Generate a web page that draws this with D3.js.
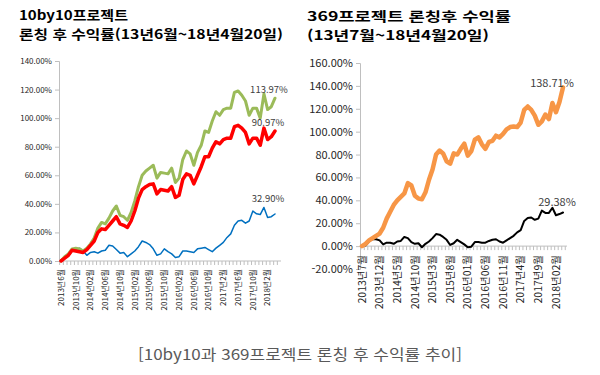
<!DOCTYPE html>
<html lang="ko">
<head>
<meta charset="UTF-8">
<script src="https://cdn.jsdelivr.net/npm/d3@7"></script>
<style>
  body { margin: 0; background: #fff; }
  text { font-family: "Noto Sans CJK KR", "Noto Sans", sans-serif; }
</style>
</head>
<body>
<svg id="chart" width="600" height="375"></svg>
<script>
// 10by10 (monthly, 2013-06 .. 2018-04)
const leftGreen = [0, 3, 5, 8.5, 9, 8.5, 7, 9, 12, 16, 23, 27, 26, 30, 35, 38.5, 32, 31, 28.5, 34,
  42, 52, 60, 63, 65, 67, 58, 62, 61.5, 61, 65, 55, 58, 71, 77, 75, 67, 76, 81, 91,
  90, 98, 104.5, 102, 106, 107, 107, 118, 119, 116, 112, 102, 107, 107, 100, 117, 106, 108, 113.97];
const leftRed = [0, 2, 4, 7.5, 7, 6.5, 6, 8, 11, 14, 20, 22.5, 22, 25, 28, 31, 26, 25, 23.5, 28,
  35, 44, 50, 52, 53.5, 54, 47, 50, 49.5, 49, 52, 44.5, 46, 57, 61, 60, 54, 60, 66, 73,
  73, 79, 83.5, 82, 85, 86, 86, 94, 95, 93, 90, 82, 86, 86, 81, 93, 85, 87, 90.97];
const leftBlue = [0, 2, 3.5, 7, 8, 9, 7, 4, 6, 6.5, 5.5, 7, 7.5, 11, 10.5, 8, 5.5, 6, 3, 5,
  7, 10, 14, 13, 11.5, 8.5, 4, 5, 8.5, 6.5, 5, 2.5, 3, 7, 7, 6.5, 6, 8.5, 9, 9.5,
  8, 6.5, 9, 11, 13, 16.5, 19, 25, 28, 28.5, 26.5, 28, 35, 33, 32.5, 37.5, 30.5, 31, 32.9];
const leftTickLabels = ["2013년6월", "2013년10월", "2014년02월", "2014년06월", "2014년10월",
  "2015년02월", "2015년06월", "2015년10월", "2016년02월", "2016년06월", "2016년10월",
  "2017년2월", "2017년6월", "2017년10월", "2018년2월"];
const leftYTicks = [0, 20, 40, 60, 80, 100, 120, 140];

// 369 (monthly, 2013-07 .. 2018-04)
const rightOrange = [0, 2, 5, 7, 9, 11, 16, 24, 30, 36, 40, 43, 46, 55, 53, 44, 41.5, 41, 47, 58,
  67, 80, 83.5, 81, 74, 72, 81, 80, 85, 89.5, 79, 83, 93, 95, 89, 85, 91, 92, 96.5, 95,
  98, 102, 104, 104.5, 104, 108, 119, 122, 119, 114, 106, 109, 115, 111, 125, 117, 126, 138.71];
const rightBlack = [0, 0.5, 4, 6, 6, 5, 1.5, 3, 3, 2, 4, 4.5, 8, 7, 3.5, 2, 2.5, -1, 2, 4,
  7, 10.5, 10, 8, 5.5, 1, 2.5, 5.5, 3.5, 1.5, -1, -0.5, 3.5, 3.5, 3, 3, 4.5, 5.5, 6, 4,
  3, 5, 7, 9, 12, 14, 22, 24.5, 25, 23, 24, 31, 29, 29, 33.5, 27, 28, 29.38];
const rightTickLabels = ["2013년7월", "2013년12월", "2014년5월", "2014년10월", "2015년3월",
  "2015년8월", "2016년01월", "2016년06월", "2016년11월", "2017년4월", "2017년9월", "2018년02월"];
const rightYTicks = [-20, 0, 20, 40, 60, 80, 100, 120, 140, 160];

const svg = d3.select("#chart");
const axisColor = "#BFBFBF";
const fmt = v => v.toFixed(2) + "%";

// titles (Malgun-like widths, forced with textLength)
function titleLine(x, y, txt, len) {
  svg.append("text").attr("x", x).attr("y", y)
    .attr("font-size", 13).attr("font-weight", "bold").attr("fill", "#000")
    .attr("textLength", len).attr("lengthAdjust", "spacingAndGlyphs")
    .text(txt);
}
titleLine(19, 20, "10by10프로젝트", 109);
titleLine(19, 39, "론칭 후 수익률(13년6월~18년4월20일)", 264);
titleLine(307, 21, "369프로젝트 론칭후 수익률", 204);
titleLine(307, 40, "(13년7월~18년4월20일)", 182);

function drawPanel(cfg) {
  const x = d3.scaleLinear().domain([0, cfg.n - 1]).range(cfg.xr);
  const y = d3.scaleLinear().domain(cfg.yd).range(cfg.yr);
  const g = svg.append("g");

  // y axis
  const ya = g.append("g").attr("transform", `translate(${cfg.yAxisX},0)`)
    .call(d3.axisLeft(y).tickValues(cfg.yTicks).tickFormat(fmt).tickSize(4).tickPadding(3));
  ya.select(".domain").attr("stroke", axisColor);
  ya.selectAll(".tick line").attr("stroke", axisColor);
  ya.selectAll("text").attr("font-size", cfg.yFont).attr("fill", "#262626")
    .attr("font-family", "Noto Sans CJK KR");

  // x axis: monthly minor ticks
  const x0 = y(0);
  g.append("line").attr("x1", cfg.yAxisX).attr("x2", cfg.xEnd)
    .attr("y1", x0).attr("y2", x0).attr("stroke", axisColor);
  g.selectAll(".mt").data(d3.range(cfg.n + 1)).join("line")
    .attr("x1", i => x(i - 0.5) + 0.5).attr("x2", i => x(i - 0.5) + 0.5)
    .attr("y1", x0).attr("y2", x0 + 4).attr("stroke", axisColor);

  // x labels
  g.selectAll(".xl").data(cfg.xLabels).join("text")
    .attr("transform", (d, k) => `translate(${x(k * cfg.step) + cfg.xFont * 0.35},${cfg.labelTop}) rotate(-90)`)
    .attr("text-anchor", "end").attr("font-size", cfg.xFont).attr("fill", "#262626")
    .text(d => d);

  // lines
  cfg.series.forEach(s => {
    g.append("path").datum(s.values)
      .attr("fill", "none").attr("stroke", s.color).attr("stroke-width", s.width)
      .attr("stroke-linejoin", "round").attr("stroke-linecap", "round")
      .attr("d", d3.line().x((d, i) => x(i)).y(d => y(d)));
    const last = s.values[s.values.length - 1];
    g.append("text").attr("x", x(s.values.length - 1) + s.labDx)
      .attr("y", y(last) + s.labDy).attr("text-anchor", "middle")
      .attr("font-size", cfg.labFont).attr("fill", "#404040").text(fmt(last));
  });
}

drawPanel({
  n: leftGreen.length, xr: [61, 275], xEnd: 281, yAxisX: 59,
  yd: [0, 140], yr: [261, 61], yTicks: leftYTicks, yFont: 8,
  xLabels: leftTickLabels, step: 4, xFont: 8, labelTop: 269,
  labFont: 9.5,
  series: [
    { values: leftBlue, color: "#0070C0", width: 1.5, labDx: -7, labDy: -12 },
    { values: leftGreen, color: "#9BBB59", width: 3, labDx: -6, labDy: -5 },
    { values: leftRed, color: "#FF0000", width: 3.5, labDx: -7, labDy: -5 }
  ]
});

drawPanel({
  n: rightOrange.length, xr: [362, 563], xEnd: 567, yAxisX: 360,
  yd: [-20, 160], yr: [269, 63], yTicks: rightYTicks, yFont: 11,
  xLabels: rightTickLabels, step: 5, xFont: 10.5, labelTop: 255,
  labFont: 11,
  series: [
    { values: rightBlack, color: "#000000", width: 2, labDx: -6, labDy: -6 },
    { values: rightOrange, color: "#F79646", width: 4.5, labDx: -11, labDy: 0 }
  ]
});

svg.append("text").attr("x", 300).attr("y", 360).attr("text-anchor", "middle")
  .attr("font-size", 15).attr("fill", "#595959")
  .attr("textLength", 324).attr("lengthAdjust", "spacingAndGlyphs")
  .text("[10by10과 369프로젝트 론칭 후 수익률 추이]");
</script>
</body>
</html>
